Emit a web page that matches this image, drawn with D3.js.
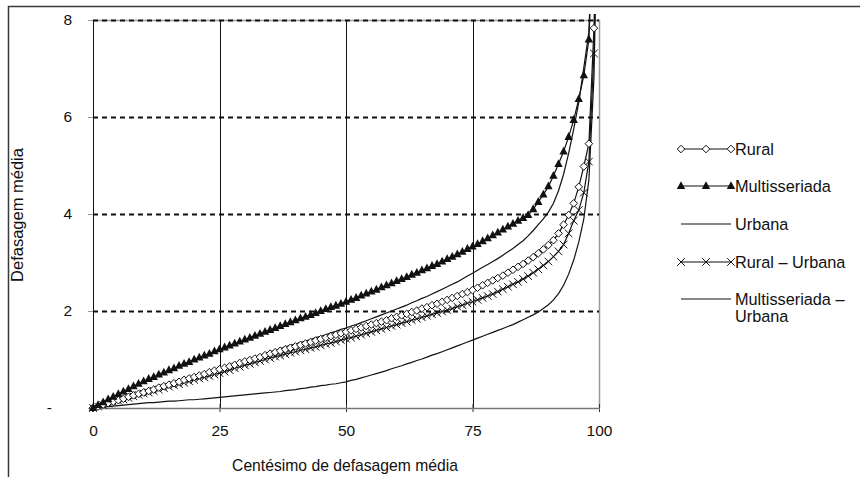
<!DOCTYPE html>
<html><head><meta charset="utf-8">
<script src="https://cdn.jsdelivr.net/npm/d3@7/dist/d3.min.js"></script>
<style>
html,body{margin:0;padding:0;background:#fff;}
svg text{font-family:"Liberation Sans",Arial,sans-serif;fill:#111;}
</style></head>
<body><svg id="chart" width="860" height="477"></svg>
<script>
// Centiles 0..100
const centiles = d3.range(0, 101);
const xTicks = [0, 25, 50, 75, 100];
const yTicks = [0, 2, 4, 6, 8];
const yTickLabels = ["-", "2", "4", "6", "8"];

const rural = [0.00,0.03,0.07,0.10,0.13,0.16,0.19,0.23,0.26,0.29,0.32,
0.35,0.38,0.42,0.45,0.48,0.51,0.54,0.58,0.61,0.64,
0.67,0.70,0.74,0.77,0.80,0.83,0.86,0.89,0.93,0.96,
0.99,1.02,1.05,1.09,1.12,1.15,1.18,1.21,1.24,1.27,
1.30,1.33,1.36,1.39,1.42,1.45,1.48,1.51,1.54,1.57,
1.60,1.63,1.66,1.69,1.72,1.75,1.78,1.81,1.85,1.88,
1.91,1.94,1.98,2.01,2.05,2.08,2.12,2.15,2.19,2.23,
2.27,2.31,2.35,2.39,2.43,2.48,2.53,2.58,2.63,2.68,
2.73,2.79,2.85,2.91,2.97,3.04,3.11,3.19,3.27,3.36,
3.46,3.60,3.78,3.98,4.22,4.56,4.98,5.45,7.83,12.0];

const multisseriada = [0.00,0.06,0.12,0.18,0.23,0.29,0.34,0.39,0.45,0.50,0.55,
0.60,0.64,0.69,0.73,0.78,0.82,0.87,0.91,0.95,1.00,
1.04,1.08,1.12,1.17,1.21,1.25,1.29,1.33,1.37,1.41,
1.45,1.49,1.53,1.57,1.61,1.65,1.69,1.73,1.77,1.81,
1.85,1.88,1.92,1.96,2.00,2.04,2.08,2.11,2.15,2.19,
2.23,2.27,2.32,2.36,2.40,2.44,2.49,2.53,2.57,2.62,
2.66,2.70,2.75,2.79,2.84,2.88,2.93,2.97,3.02,3.07,
3.12,3.17,3.22,3.28,3.33,3.38,3.44,3.50,3.56,3.62,
3.68,3.74,3.80,3.86,3.92,3.98,4.10,4.25,4.40,4.57,
4.79,5.03,5.29,5.59,5.94,6.37,6.86,7.60,10.2,16.0];

const urbana = [0.00,0.01,0.02,0.03,0.04,0.05,0.06,0.07,0.08,0.09,0.10,
0.11,0.11,0.12,0.13,0.14,0.14,0.15,0.16,0.17,0.17,
0.18,0.19,0.20,0.21,0.22,0.23,0.24,0.25,0.26,0.27,
0.28,0.29,0.30,0.31,0.32,0.33,0.34,0.36,0.37,0.38,
0.40,0.41,0.43,0.44,0.46,0.47,0.49,0.50,0.52,0.54,
0.57,0.59,0.62,0.65,0.68,0.71,0.74,0.77,0.81,0.84,
0.87,0.91,0.94,0.98,1.01,1.05,1.09,1.12,1.16,1.20,
1.24,1.28,1.32,1.36,1.40,1.44,1.48,1.52,1.56,1.60,
1.64,1.68,1.72,1.77,1.82,1.87,1.92,1.98,2.05,2.13,
2.23,2.36,2.53,2.76,3.05,3.42,3.90,4.70,6.80,12.0];

const ruralUrbana = [0.00,0.03,0.06,0.09,0.12,0.15,0.18,0.21,0.24,0.27,0.30,
0.32,0.35,0.38,0.41,0.44,0.47,0.49,0.52,0.55,0.58,
0.61,0.63,0.66,0.69,0.72,0.75,0.78,0.82,0.85,0.88,
0.91,0.94,0.97,1.00,1.03,1.06,1.08,1.11,1.14,1.16,
1.19,1.21,1.24,1.26,1.29,1.32,1.34,1.37,1.40,1.43,
1.45,1.48,1.51,1.54,1.57,1.60,1.63,1.66,1.69,1.72,
1.75,1.78,1.81,1.84,1.87,1.90,1.93,1.96,1.99,2.02,
2.05,2.09,2.12,2.16,2.19,2.23,2.27,2.31,2.35,2.40,
2.45,2.50,2.55,2.60,2.66,2.72,2.79,2.86,2.94,3.02,
3.12,3.23,3.37,3.60,3.86,4.08,4.44,5.08,7.31,12.0];

const multiUrbana = [0.00,0.03,0.07,0.10,0.14,0.17,0.20,0.24,0.27,0.30,0.34,
0.37,0.40,0.43,0.47,0.50,0.53,0.56,0.60,0.63,0.66,
0.69,0.72,0.76,0.79,0.82,0.85,0.89,0.92,0.95,0.99,
1.02,1.05,1.09,1.12,1.16,1.19,1.22,1.26,1.29,1.32,
1.35,1.38,1.41,1.45,1.48,1.51,1.55,1.58,1.62,1.65,
1.69,1.72,1.76,1.80,1.84,1.88,1.92,1.96,2.00,2.04,
2.08,2.12,2.17,2.21,2.26,2.30,2.35,2.40,2.45,2.50,
2.55,2.60,2.66,2.72,2.78,2.84,2.90,2.96,3.02,3.08,
3.15,3.22,3.29,3.37,3.45,3.55,3.66,3.78,3.90,4.04,
4.22,4.48,4.82,5.25,5.75,6.30,7.02,7.75,10.5,16.0];

const seriesNames = ["Rural", "Multisseriada", "Urbana", "Rural – Urbana", "Multisseriada – Urbana"];
const series = [
  {name: seriesNames[0], values: rural, marker: "diamond"},
  {name: seriesNames[1], values: multisseriada, marker: "triangle"},
  {name: seriesNames[2], values: urbana, marker: "none"},
  {name: seriesNames[3], values: ruralUrbana, marker: "x"},
  {name: seriesNames[4], values: multiUrbana, marker: "none"}
];

const svg = d3.select("#chart");
const L = 93, R = 599, T = 20, B = 408;
const x = d3.scaleLinear().domain([0, 100]).range([L, R]);
const y = d3.scaleLinear().domain([0, 8]).range([B, T]);
const FONT = "Liberation Sans, Arial, sans-serif";

// chart area border (extends beyond the window on right/bottom)
svg.append("path").attr("d", "M8.5,480 L8.5,6.5 L870,6.5")
  .attr("fill", "none").attr("stroke", "#3a3a3a").attr("stroke-width", 1.5);

// plot area border (gray)
svg.append("path").attr("d", `M${L},${T + 0.5} L${R + 0.5},${T + 0.5} L${R + 0.5},${B}`)
  .attr("fill", "none").attr("stroke", "#9a9a9a").attr("stroke-width", 1.5);

// vertical gridlines
svg.append("g").selectAll("line").data([25, 50, 75]).join("line")
  .attr("x1", d => Math.round(x(d)) + 0.5).attr("x2", d => Math.round(x(d)) + 0.5)
  .attr("y1", T).attr("y2", B)
  .attr("stroke", "#111").attr("stroke-width", 1);

// horizontal dashed gridlines
svg.append("g").selectAll("line").data([2, 4, 6, 8]).join("line")
  .attr("x1", L).attr("x2", R)
  .attr("y1", d => Math.round(y(d)) + 0.5).attr("y2", d => Math.round(y(d)) + 0.5)
  .attr("stroke", "#111").attr("stroke-width", 2).attr("stroke-dasharray", "5,4");

// x axis
const xAxis = d3.axisBottom(x).tickValues(xTicks).tickSize(8).tickSizeOuter(0).tickPadding(13);
const gx = svg.append("g").attr("transform", `translate(0,${B - 4})`).call(xAxis);
gx.select(".domain").remove();
gx.selectAll(".tick line").attr("stroke", "#333");
gx.selectAll(".tick text").attr("font-size", 15.5).attr("fill", "#111").attr("font-family", FONT);
svg.append("line").attr("x1", L).attr("x2", R + 1).attr("y1", B + 0.5).attr("y2", B + 0.5)
  .attr("stroke", "#777").attr("stroke-width", 1.5);

// y axis
const yAxis = d3.axisLeft(y).tickValues(yTicks)
  .tickFormat((d, i) => yTickLabels[i]).tickSize(5).tickSizeOuter(0).tickPadding(16);
const gy = svg.append("g").attr("transform", `translate(${L},0)`).call(yAxis);
gy.select(".domain").remove();
gy.selectAll(".tick line").attr("stroke", "#999");
gy.selectAll(".tick text").attr("font-size", 15.5).attr("fill", "#111").attr("font-family", FONT)
  .attr("dx", (d) => d === 0 ? -20 : 0);
svg.append("line").attr("x1", L + 0.5).attr("x2", L + 0.5).attr("y1", T).attr("y2", B)
  .attr("stroke", "#111").attr("stroke-width", 1);

// axis titles
svg.append("text").attr("x", 345).attr("y", 471).attr("text-anchor", "middle")
  .attr("font-size", 15.7).text("Centésimo de defasagem média");
svg.append("text").attr("transform", "translate(23,215) rotate(-90)")
  .attr("text-anchor", "middle").attr("font-size", 16.5).text("Defasagem média");

// clip (lines overshoot the top edge slightly, as in the original)
svg.append("clipPath").attr("id", "plotclip").append("rect")
  .attr("x", L - 6).attr("y", T - 6).attr("width", R - L + 12).attr("height", B - T + 12);

const line = d3.line().x((d, i) => x(centiles[i])).y(d => y(d));
const plot = svg.append("g").attr("clip-path", "url(#plotclip)");

function drawMarker(g, type, cx, cy) {
  if (type === "diamond") {
    g.append("path").attr("d", `M${cx},${cy - 3.8} L${cx + 3.8},${cy} L${cx},${cy + 3.8} L${cx - 3.8},${cy} Z`)
      .attr("fill", "#fff").attr("stroke", "#111").attr("stroke-width", 1);
  } else if (type === "triangle") {
    g.append("path").attr("d", `M${cx},${cy - 4.8} L${cx + 4.2},${cy + 3} L${cx - 4.2},${cy + 3} Z`)
      .attr("fill", "#111").attr("stroke", "none");
  } else if (type === "x") {
    g.append("path").attr("d", `M${cx - 3.8},${cy - 3.8} L${cx + 3.8},${cy + 3.8} M${cx - 3.8},${cy + 3.8} L${cx + 3.8},${cy - 3.8}`)
      .attr("fill", "none").attr("stroke", "#111").attr("stroke-width", 1);
  }
}

// draw order: plain lines, then marker series
const drawOrder = [2, 4, 3, 0, 1];
drawOrder.forEach(si => {
  const s = series[si];
  plot.append("path").datum(s.values).attr("d", line)
    .attr("fill", "none").attr("stroke", "#111").attr("stroke-width", 1.2);
  if (s.marker !== "none") {
    const mg = plot.append("g");
    s.values.forEach((v, i) => {
      if (v <= 8) drawMarker(mg, s.marker, x(centiles[i]), y(v));
    });
  }
});

// legend
const legendY = [149, 186, 224, 262, 299];
const lg = svg.append("g");
series.forEach((s, i) => {
  const cy = legendY[i];
  lg.append("line").attr("x1", 681).attr("x2", 731).attr("y1", cy).attr("y2", cy)
    .attr("stroke", "#111").attr("stroke-width", 1.2);
  if (s.marker !== "none") {
    [681, 706, 731].forEach(mx => drawMarker(lg, s.marker, mx, cy));
  }
  const t = lg.append("text").attr("x", 735).attr("y", cy + 5.5).attr("font-size", 16.3);
  if (i === 4) {
    t.append("tspan").attr("x", 735).text("Multisseriada –");
    t.append("tspan").attr("x", 735).attr("dy", 17).text("Urbana");
  } else {
    t.text(s.name);
  }
});
</script>
</body></html>
